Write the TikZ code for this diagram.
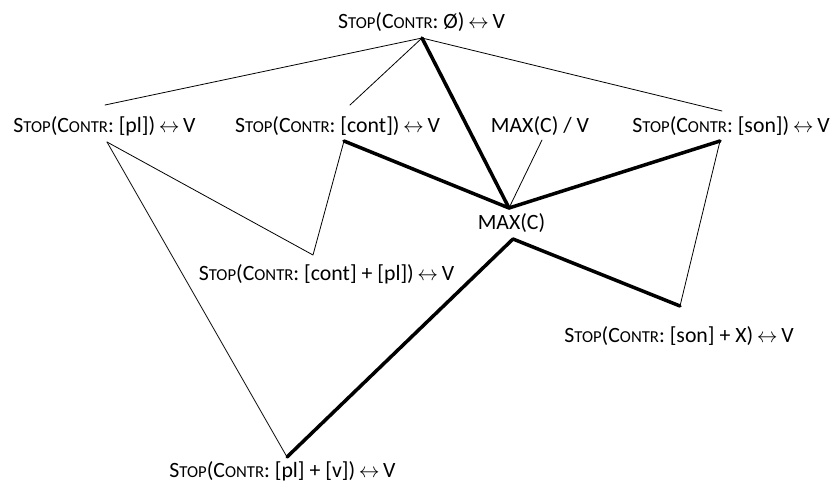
\documentclass[tikz,border=0pt]{standalone}
\usepackage{fontspec}
\setmainfont{Carlito}
\newcommand\mysc[1]{{\fontsize{16.7pt}{18pt}\selectfont #1}}
\newcommand\Stp{S\mysc{TOP}}
\newcommand\Ctr{C\mysc{ONTR}}
\newcommand\lra{\,$\leftrightarrow$\,}
\begin{document}
\begin{tikzpicture}[x=1pt,y=-1pt,
  lbl/.style={inner sep=0pt,anchor=base,font=\fontsize{21.8pt}{24pt}\selectfont},
  thin/.style={line width=0.8pt,line cap=round,line join=round},
  thick/.style={line width=3.5pt,line cap=round,line join=round}]
\useasboundingbox (0,0) rectangle (835,491);
% labels
\node[lbl] (top)   at (421.5,28)  {\Stp(\Ctr: Ø)\lra V};
\node[lbl] (pl)    at (104.5,132) {\Stp(\Ctr: [pl])\lra V};
\node[lbl] (cont)  at (337.5,132) {\Stp(\Ctr: [cont])\lra V};
\node[lbl] (maxv)  at (540,132)   {MAX(C) / V};
\node[lbl] (son)   at (731,132)   {\Stp(\Ctr: [son])\lra V};
\node[lbl] (max)   at (511.5,229) {MAX(C)};
\node[lbl] (contpl) at (326.5,280) {\Stp(\Ctr: [cont] + [pl])\lra V};
\node[lbl] (sonx)  at (679,342)   {\Stp(\Ctr: [son] + X)\lra V};
\node[lbl] (plv)   at (282.5,477) {\Stp(\Ctr: [pl] + [v])\lra V};
% attachment points
\coordinate (T)   at (422,38);
\coordinate (plT) at (105,105);
\coordinate (plB) at (107,142);
\coordinate (coT) at (350,105);
\coordinate (coB) at (344,141);
\coordinate (soT) at (722,111);
\coordinate (soB) at (720,141);
\coordinate (mvB) at (542,140);
\coordinate (mxT) at (509,208);
\coordinate (mxB) at (513,239);
\coordinate (cpT) at (313,255);
\coordinate (sxT) at (680,306);
\coordinate (pvT) at (287,457);
% thin connectors
\draw[thin] (plT) -- (T) -- (coT);
\draw[thin] (T) -- (soT);
\draw[thin] (plB) -- (cpT) -- (coB);
\draw[thin] (plB) -- (pvT);
\draw[thin] (mvB) -- (mxT);
\draw[thin] (soB) -- (sxT);
% thick connectors
\draw[thick] (T) -- (mxT);
\draw[thick] (coB) -- (mxT) -- (soB);
\draw[thick] (pvT) -- (mxB) -- (sxT);
\end{tikzpicture}
\end{document}
